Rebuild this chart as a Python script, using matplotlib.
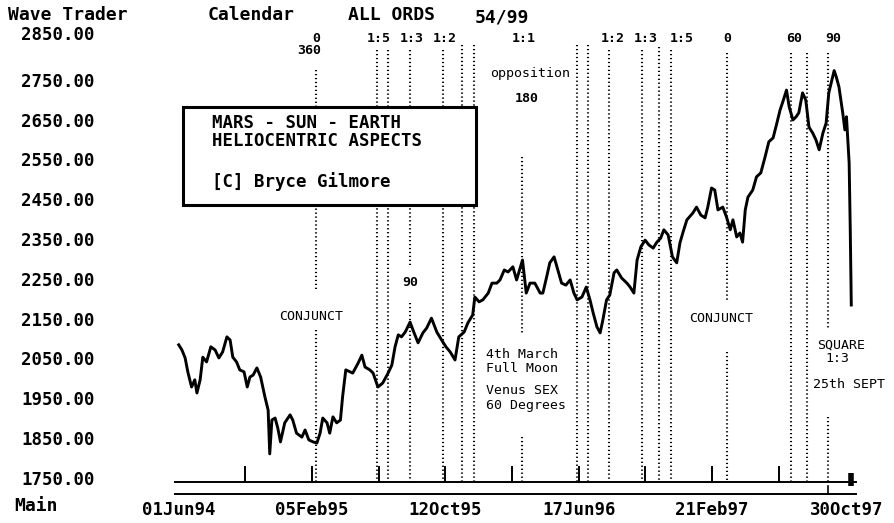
import matplotlib
matplotlib.use("Agg")
import matplotlib.pyplot as plt
import matplotlib.patches as patches
from matplotlib.transforms import blended_transform_factory
import pandas as pd

W, H = 895, 523
START = pd.Timestamp("1994-06-01")

# ALL ORDS closes (days since 01Jun94)
price_day = [
    0, 6, 12, 17, 24, 30, 34, 40, 45, 52, 60, 68, 75, 82, 90, 96, 101, 108, 114, 122,
    128, 133, 139, 146, 153, 161, 167, 170, 174, 180, 185, 190, 198, 208, 213, 220, 230, 236, 243, 251,
    258, 264, 269, 277, 282, 288, 295, 302, 306, 312,
    325, 335, 342, 348, 357, 363, 372, 381, 391, 398, 404, 410, 416, 423, 432, 439, 447, 456, 463, 472,
    482, 491, 499, 507, 516, 523, 533, 540, 549, 553, 561, 568, 578, 585, 594, 600, 608, 615, 624, 631,
    642, 649, 656, 665, 675, 680, 687, 693, 701, 708, 715, 723, 731, 738, 744, 753, 761, 768, 774, 781,
    787, 792, 799, 805, 813, 818, 827, 837, 843, 850, 856, 863, 871, 878, 886, 893, 900, 906, 914, 922,
    930, 936, 942, 949,
    960, 967, 975, 983, 988, 995, 1001, 1007, 1016, 1023, 1030, 1035, 1042, 1048, 1053, 1058, 1063, 1072, 1079, 1087,
    1095, 1102, 1110, 1117, 1123, 1128, 1135, 1140, 1147, 1153, 1158, 1165, 1171, 1177, 1184, 1190, 1196, 1203, 1209, 1214,
    1221, 1224, 1228, 1233, 1240, 1244, 1247, 1252, 1254, 1256,
]
price_close = [
    2089, 2076, 2056, 2021, 1983, 2001, 1968, 2001, 2058, 2046, 2084, 2076, 2056, 2071, 2109, 2101, 2058, 2046, 2026, 2021,
    1983, 2008, 2013, 2031, 2008, 1958, 1925, 1815, 1900, 1905, 1880, 1845, 1893, 1913, 1900, 1867, 1857, 1875, 1850, 1845,
    1842, 1867, 1905, 1893, 1867, 1908, 1893, 1900, 1958, 2026,
    2018, 2043, 2063, 2033, 2026, 2018, 1983, 1993, 2018, 2038, 2084, 2114, 2109, 2121, 2146, 2121, 2094, 2119, 2131, 2156,
    2121, 2101, 2084, 2071, 2051, 2109, 2121, 2144, 2164, 2209, 2197, 2202, 2219, 2244, 2244, 2252, 2277, 2272, 2285, 2252,
    2302, 2219, 2244, 2244, 2219, 2219, 2259, 2295, 2310, 2277, 2244, 2239, 2252, 2219, 2202, 2209, 2234, 2202, 2169, 2134,
    2119, 2151, 2202, 2214, 2270, 2277, 2257, 2244, 2234, 2219, 2302, 2335, 2352, 2340, 2332, 2347, 2357, 2378, 2365, 2310,
    2295, 2345, 2373, 2403,
    2420, 2435, 2415, 2408, 2435, 2483, 2478, 2428, 2435, 2410, 2378, 2403, 2360, 2370, 2347, 2428, 2460, 2478, 2511, 2521,
    2561, 2599, 2609, 2646, 2679, 2699, 2729, 2687, 2654, 2662, 2672, 2722, 2704, 2636, 2621, 2604, 2579, 2621, 2646, 2722,
    2762, 2778, 2762, 2737, 2672, 2629, 2662, 2546, 2385, 2189,
]

# Mars-Sun-Earth heliocentric aspect dates (dotted verticals)
aspect_dates = [
    "1995-02-12", "1995-06-06", "1995-06-27", "1995-08-07", "1995-10-08", "1995-11-12",
    "1995-12-04", "1996-03-04", "1996-06-14", "1996-07-04", "1996-08-13", "1996-10-14",
    "1996-11-14", "1996-12-06", "1997-03-21", "1997-07-19", "1997-08-17", "1997-09-25",
]
label_dates = ["1994-06-01", "1995-02-05", "1995-10-12", "1996-06-17", "1997-02-21", "1997-10-30"]
y_levels = [2850, 2750, 2650, 2550, 2450, 2350, 2250, 2150, 2050, 1950, 1850, 1750]


def days(d):
    return (pd.Timestamp(d) - START).days


def fx(x):
    return x / W


def fy(y):
    return 1 - y / H


MONO = "DejaVu Sans Mono"

fig = plt.figure(figsize=(W / 100, H / 100), dpi=100)
fig.patch.set_facecolor("white")
ax = fig.add_axes([fx(174), fy(482), (856 - 174) / W, (482 - 30) / H])
ax.axis("off")
ax.set_xlim(-8.8, 1264.8)
ax.set_ylim(1744.3, 2880)

# x in data, y in figure coords
bt = blended_transform_factory(ax.transData, fig.transFigure)

# price
ax.plot(price_day, price_close, color="black", lw=2.1, zorder=3)

# dotted aspect lines: top in px, gaps in px
tops = [70, 50, 50, 50, 50, 45, 45, 157, 45, 45, 50, 50, 47, 50, 53, 53, 53, 53]
gaps = {0: (290, 330), 3: (267, 303), 7: (333, 437), 14: (300, 352), 17: (328, 417)}
for i, d in enumerate(aspect_dates):
    x = days(d)
    segs = [(tops[i], 482)]
    if i in gaps:
        g0, g1 = gaps[i]
        segs = [(tops[i], g0), (g1, 482)]
    for y0, y1 in segs:
        ax.plot([x, x], [fy(y0), fy(y1)], transform=bt, color="black", lw=1.5,
                dashes=(0.6, 1.3), zorder=2, clip_on=False)

# bottom axis lines and ticks
x_lo, x_hi = -6, 1264
ax.plot([x_lo, x_hi], [fy(482), fy(482)], transform=bt, color="black", lw=1.4, clip_on=False)
ax.plot([x_lo, x_hi], [fy(494), fy(494)], transform=bt, color="black", lw=1.4, clip_on=False)
for k in range(1, 10):
    xt = 124.5 * k
    ax.plot([xt, xt], [fy(482), fy(467)], transform=bt, color="black", lw=1.4, clip_on=False)
ax.plot([price_day[-1], price_day[-1]], [fy(486), fy(473)], transform=bt, color="black",
        lw=4, solid_capstyle="butt", clip_on=False)
ax.plot([days("1997-09-25")] * 2, [fy(486), fy(494)], transform=bt, color="black", lw=1.2, clip_on=False)

for d in label_dates:
    ax.text(days(d), fy(510), pd.Timestamp(d).strftime("%d%b%y"), transform=bt,
            ha="center", va="center", family=MONO, weight="bold", fontsize=12.5)

# y labels
ylab_t = blended_transform_factory(fig.transFigure, ax.transData)
for v in y_levels:
    yy = v
    if v == 2850:
        yy = 2868
    ax.text(fx(21), yy, f"{v:.2f}", transform=ylab_t,
            ha="left", va="center", family=MONO, weight="bold", fontsize=12.5)

# header
hdr = dict(family=MONO, weight="bold", fontsize=13, va="center", ha="left")
fig.text(fx(8), fy(15), "Wave Trader", **hdr)
fig.text(fx(208), fy(15), "Calendar", **hdr)
fig.text(fx(348), fy(15), "ALL ORDS", **hdr)
fig.text(fx(475), fy(18), "54/99", **hdr)
fig.text(fx(14), fy(506), "Main", **hdr)

# aspect labels at the top
small_b = dict(family=MONO, weight="bold", fontsize=9.5, ha="center", va="center")
for x, s in [(316, "0"), (379, "1:5"), (412, "1:3"), (445, "1:2"), (524, "1:1"),
             (613, "1:2"), (646, "1:3"), (682, "1:5"), (727, "0"), (794, "60"), (833, "90")]:
    fig.text(fx(x), fy(38), s, **small_b)
fig.text(fx(309), fy(50), "360", **small_b)
fig.text(fx(527), fy(99), "180", **small_b)
fig.text(fx(410), fy(283), "90", **small_b)

small = dict(family=MONO, fontsize=9.5, va="center")
fig.text(fx(530), fy(73), "opposition", ha="center", **small)
fig.text(fx(311), fy(316), "CONJUNCT", ha="center", **small)
fig.text(fx(721), fy(318), "CONJUNCT", ha="center", **small)
fig.text(fx(486), fy(354), "4th March", ha="left", **small)
fig.text(fx(486), fy(368), "Full Moon", ha="left", **small)
fig.text(fx(486), fy(391), "Venus SEX", ha="left", **small)
fig.text(fx(486), fy(405), "60 Degrees", ha="left", **small)
fig.text(fx(841), fy(345), "SQUARE", ha="center", **small)
fig.text(fx(837), fy(359), "1:3", ha="center", **small)
fig.text(fx(813), fy(385), "25th SEPT", ha="left", **small)

# title box
box = patches.Rectangle((fx(183), fy(205)), (476 - 183) / W, (205 - 107) / H,
                        transform=fig.transFigure, facecolor="white", edgecolor="black",
                        lw=2.2, zorder=5)
fig.patches.append(box)
bx = dict(family=MONO, weight="bold", fontsize=12.5, ha="left", va="center", zorder=6)
fig.text(fx(212), fy(123), "MARS - SUN - EARTH", **bx)
fig.text(fx(212), fy(141), "HELIOCENTRIC ASPECTS", **bx)
fig.text(fx(212), fy(182), "[C] Bryce Gilmore", **bx)

fig.savefig("out.png", dpi=100, facecolor="white")
